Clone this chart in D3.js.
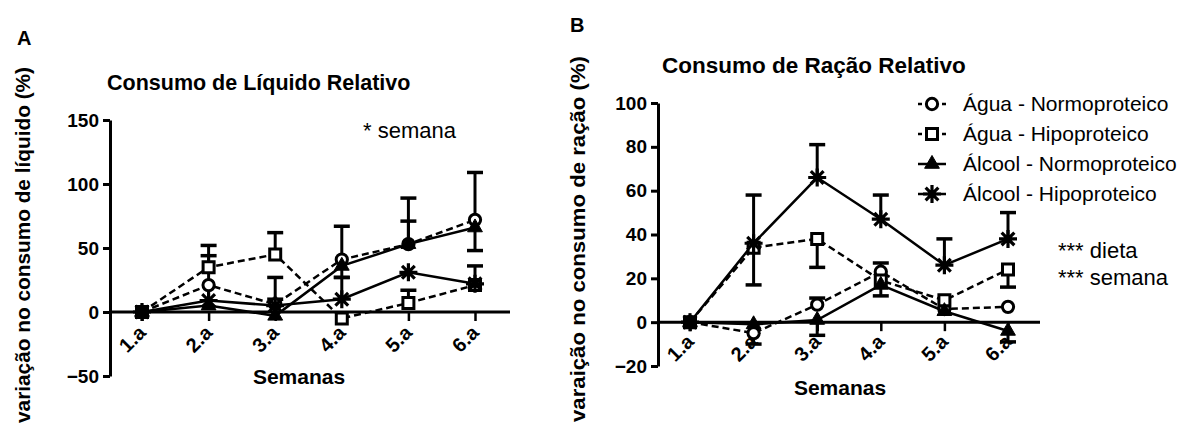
<!DOCTYPE html>
<html>
  <head>
    <meta charset="utf-8">
    <title>Consumo relativo</title>
    <script src="https://d3js.org/d3.v7.min.js" charset="utf-8"></script>
    <style>
      body { margin: 0; background: #fff; }
      text { font-family: "Liberation Sans", Arial, sans-serif; fill: #000; }
    </style>
  </head>
  <body>
    <script>
      var width = 1181;
      var height = 428;

      // categories
      var weeks = ["1.a", "2.a", "3.a", "4.a", "5.a", "6.a"];
      var seriesNames = ["Água - Normoproteico", "Água - Hipoproteico", "Álcool - Normoproteico", "Álcool - Hipoproteico"];
      var seriesSymbols = ["circle", "square", "triangle", "asterisk"];
      var seriesDashed = [true, true, false, false];

      // panel A - liquid consumption (%)
      var liqAguaNormo = [0, 21, 6, 41, 53, 72];
      var liqAguaHipo = [0, 35, 45, -5, 7, 21];
      var liqAlcoolNormo = [0, 5, -3, 36, 53, 66];
      var liqAlcoolHipo = [0, 9, 5, 10, 31, 22];
      var liqAguaNormoUp = [0, 23, 4, 26, 36, 37];
      var liqAguaNormoDn = [0, 0, 0, 0, 0, 0];
      var liqAguaHipoUp = [0, 17, 17, 0, 10, 0];
      var liqAguaHipoDn = [0, 0, 0, 0, 0, 0];
      var liqAlcoolNormoUp = [0, 0, 0, 0, 18, 0];
      var liqAlcoolNormoDn = [0, 0, 0, 9, 0, 18];
      var liqAlcoolHipoUp = [0, 0, 22, 17, 0, 14];
      var liqAlcoolHipoDn = [0, 0, 0, 0, 0, 0];
      var liqTicks = [-50, 0, 50, 100, 150];

      // panel B - food consumption (%)
      var racAguaNormo = [0, -5, 8, 23, 6, 7];
      var racAguaHipo = [0, 34, 38, 19, 10, 24];
      var racAlcoolNormo = [0, -1, 1, 17, 5, -4];
      var racAlcoolHipo = [0, 36, 66, 47, 26, 38];
      var racAguaNormoUp = [0, 0, 3, 4, 0, 0];
      var racAguaNormoDn = [0, 5, 0, 0, 0, 0];
      var racAguaHipoUp = [0, 0, 0, 0, 0, 0];
      var racAguaHipoDn = [0, 0, 13, 0, 0, 8];
      var racAlcoolNormoUp = [0, 0, 0, 0, 0, 0];
      var racAlcoolNormoDn = [0, 0, 7, 5, 0, 5];
      var racAlcoolHipoUp = [0, 22, 15, 11, 12, 12];
      var racAlcoolHipoDn = [0, 19, 0, 0, 0, 0];
      var racTicks = [-20, 0, 20, 40, 60, 80, 100];

      var svg = d3.select("body")
          .append("svg")
          .attr("width", width)
          .attr("height", height);

      function symbolPath(type, r) {
        if (type == "asterisk") {
          var p = "";
          for (var i = 0; i < 4; i++) {
            var a = i * Math.PI / 4;
            var dx = Math.cos(a) * r, dy = Math.sin(a) * r;
            p += "M" + (-dx) + "," + (-dy) + "L" + dx + "," + dy;
          }
          return p;
        }
        if (type == "triangle") return d3.symbol().type(d3.symbolTriangle).size(95)();
        if (type == "square") return "M-5.5,-5.5H5.5V5.5H-5.5Z";
        return d3.symbol().type(d3.symbolCircle).size(100)();
      }

      function drawMarker(g, type, x, y) {
        var m = g.append("path")
          .attr("d", symbolPath(type, 9))
          .attr("transform", "translate(" + x + "," + y + ")")
          .attr("stroke", "#000");
        if (type == "triangle") m.attr("fill", "#000").attr("stroke-width", 1);
        else if (type == "asterisk") m.attr("fill", "none").attr("stroke-width", 3.2);
        else m.attr("fill", "#fff").attr("stroke-width", 3);
      }

      function drawPanel(p) {
        var x = d3.scalePoint().domain(weeks).range(p.xRange);
        var y = d3.scaleLinear().domain(p.yDomain).range(p.yRange);
        var g = svg.append("g");

        // y axis
        g.append("g")
          .attr("transform", "translate(" + p.axisX + ",0)")
          .call(d3.axisLeft(y).tickValues(p.ticks).tickSize(7).tickPadding(4).tickSizeOuter(0))
          .call(function(a) {
            a.select(".domain").attr("stroke-width", 3);
            a.selectAll(".tick line").attr("stroke-width", 3);
            a.selectAll(".tick text").attr("font-size", 19).attr("font-weight", "bold")
              .style("font-family", "'Liberation Sans', Arial, sans-serif");
          });

        // zero line + x ticks
        g.append("line")
          .attr("x1", p.axisX).attr("x2", p.lineEnd)
          .attr("y1", y(0)).attr("y2", y(0))
          .attr("stroke", "#000").attr("stroke-width", 3);

        g.append("g")
          .attr("transform", "translate(0," + y(0) + ")")
          .call(d3.axisBottom(x).tickSize(9).tickFormat(""))
          .call(function(a) {
            a.select(".domain").remove();
            a.selectAll(".tick line").attr("stroke-width", 2.5);
          });

        g.selectAll(".wk")
          .data(weeks)
          .enter()
          .append("text")
          .attr("class", "wk")
          .attr("transform", function(d) { return "translate(" + (x(d) + 5) + "," + p.labelY + ") rotate(-45)"; })
          .attr("text-anchor", "end")
          .attr("font-size", 20)
          .attr("font-weight", "bold")
          .text(function(d) { return d; });

        g.append("text")
          .attr("x", p.xlabelX).attr("y", p.xlabelY)
          .attr("text-anchor", "middle")
          .attr("font-size", 21).attr("font-weight", "bold")
          .text("Semanas");

        // y label (stretched like the original export)
        g.append("text")
          .attr("transform", "translate(" + p.ylabelX + "," + p.ylabelY + ") rotate(-90)")
          .attr("text-anchor", "end")
          .attr("font-size", 20).attr("font-weight", "bold")
          .attr("textLength", p.ylabelLen)
          .attr("lengthAdjust", "spacingAndGlyphs")
          .text(p.ylabel);

        // title + panel letter
        g.append("text")
          .attr("x", p.titleX).attr("y", p.titleY)
          .attr("font-size", p.titleSize).attr("font-weight", "bold")
          .text(p.title);
        g.append("text")
          .attr("x", p.letterX).attr("y", p.letterY)
          .attr("font-size", 20).attr("font-weight", "bold")
          .text(p.letter);

        var line = d3.line()
          .x(function(d, i) { return x(weeks[i]); })
          .y(function(d) { return y(d); });

        // lines
        p.series.forEach(function(s, k) {
          g.append("path")
            .attr("d", line(s))
            .attr("fill", "none")
            .attr("stroke", "#000")
            .attr("stroke-width", 2.5)
            .attr("stroke-dasharray", seriesDashed[k] ? "7,4" : null);
        });

        // error bars
        p.series.forEach(function(s, k) {
          s.forEach(function(v, i) {
            var cx = x(weeks[i]);
            [[p.up[k][i], 1], [p.dn[k][i], -1]].forEach(function(e) {
              if (!e[0]) return;
              var end = y(v + e[1] * e[0]);
              g.append("line").attr("x1", cx).attr("x2", cx)
                .attr("y1", y(v)).attr("y2", end)
                .attr("stroke", "#000").attr("stroke-width", 3);
              g.append("line").attr("x1", cx - 8).attr("x2", cx + 8)
                .attr("y1", end).attr("y2", end)
                .attr("stroke", "#000").attr("stroke-width", 3.5);
            });
          });
        });

        // markers
        p.series.forEach(function(s, k) {
          s.forEach(function(v, i) {
            drawMarker(g, seriesSymbols[k], x(weeks[i]), y(v));
          });
        });

        // stats notes
        p.notes.forEach(function(n) {
          g.append("text")
            .attr("x", n.x).attr("y", n.y)
            .attr("font-size", 22)
            .text(n.t);
        });
      }

      drawPanel({
        letter: "A", letterX: 17, letterY: 45,
        title: "Consumo de Líquido Relativo", titleX: 107, titleY: 90, titleSize: 21.5,
        ylabel: "variação no consumo de líquido (%)", ylabelX: 30, ylabelY: 67, ylabelLen: 356,
        xRange: [142, 475], yDomain: [-50, 150], yRange: [376, 120],
        axisX: 110, lineEnd: 510, ticks: liqTicks, labelY: 334,
        xlabelX: 299, xlabelY: 384,
        series: [liqAguaNormo, liqAguaHipo, liqAlcoolNormo, liqAlcoolHipo],
        up: [liqAguaNormoUp, liqAguaHipoUp, liqAlcoolNormoUp, liqAlcoolHipoUp],
        dn: [liqAguaNormoDn, liqAguaHipoDn, liqAlcoolNormoDn, liqAlcoolHipoDn],
        notes: [{ x: 363, y: 138, t: "* semana" }]
      });

      drawPanel({
        letter: "B", letterX: 570, letterY: 32,
        title: "Consumo de Ração Relativo", titleX: 662, titleY: 73, titleSize: 22.5,
        ylabel: "varaição no consumo de ração (%)", ylabelX: 585, ylabelY: 56, ylabelLen: 366,
        xRange: [690, 1008], yDomain: [-20, 100], yRange: [366, 103],
        axisX: 658, lineEnd: 1040, ticks: racTicks, labelY: 343,
        xlabelX: 840, xlabelY: 395,
        series: [racAguaNormo, racAguaHipo, racAlcoolNormo, racAlcoolHipo],
        up: [racAguaNormoUp, racAguaHipoUp, racAlcoolNormoUp, racAlcoolHipoUp],
        dn: [racAguaNormoDn, racAguaHipoDn, racAlcoolNormoDn, racAlcoolHipoDn],
        notes: [{ x: 1058, y: 258, t: "*** dieta" }, { x: 1058, y: 285, t: "*** semana" }]
      });

      // legend
      var legend = svg.append("g");
      seriesNames.forEach(function(name, k) {
        var ly = 104 + k * 30;
        legend.append("line")
          .attr("x1", 918).attr("x2", 946)
          .attr("y1", ly).attr("y2", ly)
          .attr("stroke", "#000").attr("stroke-width", 2.5)
          .attr("stroke-dasharray", seriesDashed[k] ? "4,20" : null);
        drawMarker(legend, seriesSymbols[k], 932, ly);
        legend.append("text")
          .attr("x", 963).attr("y", ly + 7)
          .attr("font-size", 21)
          .text(name);
      });
    </script>
  </body>
</html>
